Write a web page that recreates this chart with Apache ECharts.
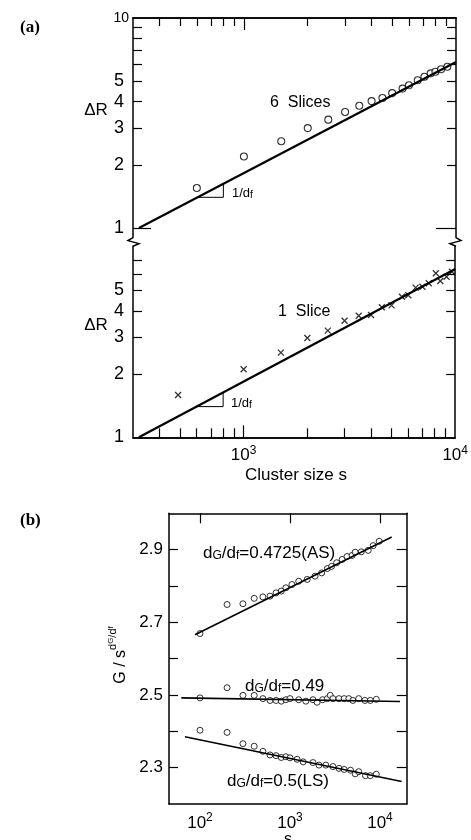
<!DOCTYPE html>
<html>
<head>
<meta charset="utf-8">
<script src="https://cdn.jsdelivr.net/npm/echarts@6/dist/echarts.min.js"></script>
<style>
  html, body { margin: 0; padding: 0; background: #fff; }
  #main { width: 471px; height: 840px; }
</style>
</head>
<body>
<div id="main"></div>
<script>
// ---------- panel (a): delta R against cluster size s (log-log) ----------
const s6 = [600, 1000, 1500, 2000, 2500, 3000, 3500, 4000, 4500, 5000, 5600, 6000, 6600, 7100, 7600, 8000, 8500, 9100];
const dR6 = [1.55, 2.19, 2.59, 2.99, 3.28, 3.57, 3.82, 4.02, 4.16, 4.39, 4.61, 4.78, 5.05, 5.25, 5.45, 5.55, 5.70, 5.86];
const s1 = [490, 1000, 1500, 2000, 2500, 3000, 3500, 4000, 4500, 5000, 5600, 6000, 6500, 7000, 7500, 8100, 8500, 9100, 9650];
const dR1 = [1.59, 2.11, 2.53, 2.97, 3.22, 3.59, 3.79, 3.82, 4.16, 4.25, 4.67, 4.75, 5.16, 5.21, 5.41, 6.04, 5.55, 5.82, 6.14];
const fitS = [320, 10000];
const fit6 = [1, 6.17];
const fit1 = [1, 6.33];
const triS = [600, 800, 800];
const triR = [1.4, 1.4, 1.63];
const minorS = [400, 500, 600, 700, 800, 900, 2000, 3000, 4000, 5000, 6000, 7000, 8000, 9000];
const majorS = [1000, 10000];
const tickTop = [2, 3, 4, 5, 6, 7, 8, 9];
const tickBottom = [2, 3, 4, 5, 6, 7];
const labelR = [1, 2, 3, 4, 5];

// ---------- panel (b): G / s^(dG/df) against s ----------
const sAS = [100, 200, 300, 400, 500, 600, 700, 800, 900, 1050, 1250, 1550, 1900, 2250, 2600, 2900, 3300, 3800, 4300, 4900, 5300, 6200, 7400, 8400, 9800];
const gAS = [2.669, 2.749, 2.751, 2.766, 2.770, 2.772, 2.781, 2.786, 2.795, 2.804, 2.813, 2.818, 2.827, 2.836, 2.848, 2.854, 2.864, 2.873, 2.881, 2.884, 2.893, 2.894, 2.898, 2.911, 2.923];
const s49 = [100, 200, 300, 400, 500, 600, 700, 800, 900, 1000, 1250, 1500, 1800, 2000, 2300, 2600, 2800, 3000, 3500, 4000, 4500, 5000, 5800, 6800, 7800, 9100];
const g49 = [2.492, 2.520, 2.499, 2.499, 2.490, 2.485, 2.485, 2.483, 2.487, 2.490, 2.487, 2.483, 2.487, 2.480, 2.487, 2.490, 2.499, 2.490, 2.490, 2.490, 2.490, 2.485, 2.490, 2.485, 2.485, 2.488];
const sLS = [100, 200, 300, 400, 500, 600, 700, 800, 900, 1000, 1200, 1400, 1800, 2100, 2500, 3000, 3500, 4000, 4700, 5300, 5800, 6900, 7800, 9100];
const gLS = [2.403, 2.397, 2.366, 2.359, 2.345, 2.335, 2.333, 2.328, 2.330, 2.327, 2.323, 2.316, 2.314, 2.307, 2.307, 2.303, 2.298, 2.295, 2.293, 2.283, 2.289, 2.278, 2.278, 2.282];
const fitAS_s = [88, 13500], fitAS_g = [2.666, 2.935];
const fit49_s = [62, 16700], fit49_g = [2.492, 2.482];
const fitLS_s = [68, 17400], fitLS_g = [2.385, 2.262];
const bTickY = [2.3, 2.4, 2.5, 2.6, 2.7, 2.8, 2.9];
const bLabelY = [2.3, 2.5, 2.7, 2.9];
const bDecades = [100, 1000, 10000];

const FONT = 'Liberation Sans';
const lg = Math.log10;
const loglog = (xs, ys) => xs.map((x, i) => [lg(x), lg(ys[i])]);
const logx = (xs, ys) => xs.map((x, i) => [lg(x), ys[i]]);

// layout of the three boxes (pixels)
const A = { left: 133, right: 456, top: 18, brk: 237.6, top2: 246.2, bottom: 437.3 };
const B = { left: 169, right: 406.7, top: 513.3, bottom: 804 };

const black = '#000';
const lineS = { color: black, width: 1.5 };
const tickS = { color: black, width: 1.2 };

function axis(extra) {
  return Object.assign({
    type: 'value',
    axisLine: { show: true, onZero: false, lineStyle: lineS },
    splitLine: { show: false },
    axisTick: { show: false },
    axisLabel: { show: false }
  }, extra);
}
function ticks(vals, len) {
  return { show: true, inside: true, length: len, customValues: vals, lineStyle: tickS };
}
const powRich = {
  b: { fontSize: 17, fontFamily: FONT, color: black, verticalAlign: 'bottom', lineHeight: 20 },
  p: { fontSize: 12, fontFamily: FONT, color: black, verticalAlign: 'top', lineHeight: 10 }
};

const chart = echarts.init(document.getElementById('main'));

const option = {
  animation: false,
  backgroundColor: '#fff',
  grid: [
    { left: A.left, top: A.top, width: A.right - A.left, height: A.brk - A.top },
    { left: A.left, top: A.top2, width: A.right - A.left, height: A.bottom - A.top2 },
    { left: B.left, top: B.top, width: B.right - B.left, height: B.bottom - B.top }
  ],
  xAxis: [
    axis({ gridIndex: 0, position: 'top', min: lg(300), max: 4, axisTick: ticks(minorS.map(lg), 8) }),
    axis({ gridIndex: 0, position: 'top', min: lg(300), max: 4, axisTick: ticks([3], 12) }),
    axis({ gridIndex: 1, position: 'bottom', min: lg(300), max: 4, axisTick: ticks(minorS.map(lg), 9) }),
    axis({
      gridIndex: 1, position: 'bottom', min: lg(300), max: 4, axisTick: ticks([3], 12),
      axisLabel: { show: true, customValues: majorS.map(lg), margin: 7, formatter: v => '{b|10}{p|' + Math.round(v) + '}', rich: powRich }
    }),
    axis({
      gridIndex: 2, position: 'bottom', min: 1.6556, max: 4.2967,
      axisLabel: { show: true, customValues: bDecades.map(lg), margin: 8, formatter: v => '{b|10}{p|' + Math.round(v) + '}', rich: powRich }
    }),
    axis({ gridIndex: 2, position: 'top', min: 1.6556, max: 4.2967, axisTick: ticks(bDecades.map(lg), 10) })
  ],
  yAxis: [
    axis({
      gridIndex: 0, position: 'left', min: lg(0.9), max: 1, axisTick: ticks(tickTop.map(lg), 9),
      axisLabel: { show: true, customValues: labelR.map(lg), margin: 9, fontSize: 18, fontFamily: FONT, color: black, formatter: v => String(Math.round(Math.pow(10, v))) }
    }),
    axis({
      gridIndex: 0, position: 'left', min: lg(0.9), max: 1, axisLine: { show: false }, axisTick: ticks([0], 18),
      axisLabel: { show: true, customValues: [1], margin: 4, fontSize: 14, fontFamily: FONT, color: black, formatter: () => '10' }
    }),
    axis({ gridIndex: 0, position: 'right', min: lg(0.9), max: 1, axisTick: ticks(tickTop.map(lg), 9) }),
    axis({ gridIndex: 0, position: 'right', min: lg(0.9), max: 1, axisLine: { show: false }, axisTick: ticks([0], 20) }),
    axis({
      gridIndex: 1, position: 'left', min: 0, max: 0.91, axisTick: ticks(tickBottom.map(lg), 9),
      axisLabel: { show: true, customValues: labelR.map(lg), margin: 9, fontSize: 18, fontFamily: FONT, color: black, formatter: v => String(Math.round(Math.pow(10, v))) }
    }),
    axis({ gridIndex: 1, position: 'right', min: 0, max: 0.91, axisTick: ticks(tickBottom.map(lg), 9) }),
    axis({
      gridIndex: 2, position: 'left', min: 2.2, max: 3.0, axisTick: ticks(bTickY, 9),
      axisLabel: { show: true, customValues: bLabelY, margin: 6, fontSize: 17, fontFamily: FONT, color: black, formatter: v => v.toFixed(1) }
    }),
    axis({ gridIndex: 2, position: 'right', min: 2.2, max: 3.0, axisTick: ticks(bTickY, 10) })
  ],
  series: [
    // panel (a) top: 6 slices
    { type: 'line', xAxisIndex: 0, yAxisIndex: 0, data: loglog(fitS, fit6), showSymbol: false, lineStyle: { color: black, width: 2.2 } },
    { type: 'line', xAxisIndex: 0, yAxisIndex: 0, data: loglog(triS, triR), showSymbol: false, lineStyle: { color: black, width: 1 } },
    { type: 'scatter', xAxisIndex: 0, yAxisIndex: 0, data: loglog(s6, dR6), symbol: 'circle', symbolSize: 7,
      itemStyle: { color: '#fff', borderColor: black, borderWidth: 1.1 } },
    // panel (a) bottom: 1 slice
    { type: 'line', xAxisIndex: 2, yAxisIndex: 4, data: loglog(fitS, fit1), showSymbol: false, lineStyle: { color: black, width: 2.2 } },
    { type: 'line', xAxisIndex: 2, yAxisIndex: 4, data: loglog(triS, triR), showSymbol: false, lineStyle: { color: black, width: 1 } },
    { type: 'scatter', xAxisIndex: 2, yAxisIndex: 4, data: loglog(s1, dR1), symbol: 'path://M0,0L10,10M10,0L0,10', symbolSize: 6,
      itemStyle: { color: 'none', borderColor: black, borderWidth: 1.3 } },
    // panel (b)
    { type: 'line', xAxisIndex: 4, yAxisIndex: 6, data: logx(fitAS_s, fitAS_g), showSymbol: false, lineStyle: { color: black, width: 1.6 } },
    { type: 'line', xAxisIndex: 4, yAxisIndex: 6, data: logx(fit49_s, fit49_g), showSymbol: false, lineStyle: { color: black, width: 1.6 } },
    { type: 'line', xAxisIndex: 4, yAxisIndex: 6, data: logx(fitLS_s, fitLS_g), showSymbol: false, lineStyle: { color: black, width: 1.6 } },
    { type: 'scatter', xAxisIndex: 4, yAxisIndex: 6, data: logx(sAS, gAS), symbol: 'circle', symbolSize: 6,
      itemStyle: { color: '#fff', borderColor: black, borderWidth: 1 } },
    { type: 'scatter', xAxisIndex: 4, yAxisIndex: 6, data: logx(s49, g49), symbol: 'circle', symbolSize: 6,
      itemStyle: { color: '#fff', borderColor: black, borderWidth: 1 } },
    { type: 'scatter', xAxisIndex: 4, yAxisIndex: 6, data: logx(sLS, gLS), symbol: 'circle', symbolSize: 6,
      itemStyle: { color: '#fff', borderColor: black, borderWidth: 1 } }
  ]
};

// subscript / superscript text styles for the annotations
const subRich = {
  n: { fontSize: 17, fontFamily: FONT, color: black, verticalAlign: 'bottom', lineHeight: 21 },
  s: { fontSize: 12, fontFamily: FONT, color: black, verticalAlign: 'bottom', lineHeight: 8 }
};
const smallSubRich = {
  n: { fontSize: 13, fontFamily: FONT, color: black, verticalAlign: 'bottom', lineHeight: 16 },
  s: { fontSize: 10, fontFamily: FONT, color: black, verticalAlign: 'bottom', lineHeight: 7 }
};
const dGdf = '{n|d}{s|G}{n|/d}{s|f}';

function txt(x, y, text, extra) {
  return { type: 'text', x: x, y: y, z: 10, style: Object.assign({ text: text, fill: black, font: '17px "' + FONT + '"', textAlign: 'left', textVerticalAlign: 'middle' }, extra || {}) };
}
function zig(x, dir) {
  return {
    type: 'polyline', z: 10,
    shape: { points: [[x, A.brk], [x + 5 * dir, A.brk + 3], [x - 6 * dir, A.brk + 6], [x, A.top2]] },
    style: { stroke: black, lineWidth: 1.5, fill: null }
  };
}

option.graphic = [
  txt(20, 28, '(a)', { font: 'bold 17px "Liberation Serif"' }),
  txt(20, 521, '(b)', { font: 'bold 17px "Liberation Serif"' }),
  txt(96, 110, 'ΔR', { textAlign: 'center' }),
  txt(96, 325, 'ΔR', { textAlign: 'center' }),
  txt(270, 103, '6  Slices', { font: '16px "' + FONT + '"' }),
  txt(278, 312, '1  Slice', { font: '16px "' + FONT + '"' }),
  txt(232, 192, '{n|1/d}{s|f}', { rich: smallSubRich }),
  txt(231, 402, '{n|1/d}{s|f}', { rich: smallSubRich }),
  txt(296, 475, 'Cluster size s', { textAlign: 'center' }),
  txt(203, 551, dGdf + '{n|=0.4725(AS)}', { rich: subRich }),
  txt(245, 684, dGdf + '{n|=0.49}', { rich: subRich }),
  txt(227, 779, dGdf + '{n|=0.5(LS)}', { rich: subRich }),
  txt(288, 832, 's', { textAlign: 'center', textVerticalAlign: 'top', font: '16px "' + FONT + '"' }),
  {
    type: 'text', x: 118, y: 655, rotation: Math.PI / 2, z: 10,
    style: {
      text: '{n|G / s}{p|d}{q|G}{p|/d}{q|f}', textAlign: 'center', textVerticalAlign: 'middle',
      rich: {
        n: { fontSize: 16, fontFamily: FONT, color: black, verticalAlign: 'bottom', lineHeight: 22 },
        p: { fontSize: 11, fontFamily: FONT, color: black, verticalAlign: 'top', lineHeight: 12 },
        q: { fontSize: 8, fontFamily: FONT, color: black, verticalAlign: 'top', lineHeight: 18 }
      }
    }
  },
  zig(A.left, -1),
  zig(A.right, 1)
];

chart.setOption(option);
</script>
</body>
</html>
